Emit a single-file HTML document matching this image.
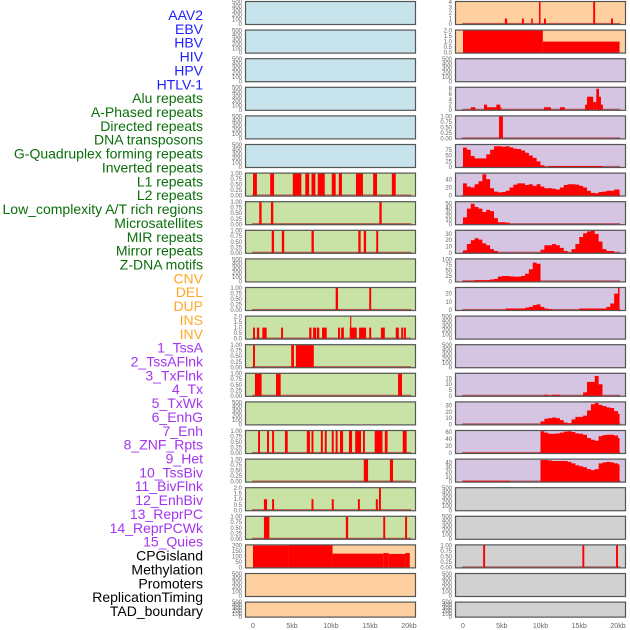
<!DOCTYPE html>
<html><head><meta charset="utf-8"><style>
html,body{margin:0;padding:0;background:#fff;width:630px;height:630px;overflow:hidden}
svg{display:block}
</style></head><body>
<svg id="chart" width="630" height="630" xmlns="http://www.w3.org/2000/svg" font-family="Liberation Sans, sans-serif"></svg>
<script>
// ---- data ----
const trackLabels = ["AAV2","EBV","HBV","HIV","HPV","HTLV-1","Alu repeats","A-Phased repeats","Directed repeats","DNA transposons","G-Quadruplex forming repeats","Inverted repeats","L1 repeats","L2 repeats","Low_complexity A/T rich regions","Microsatellites","MIR repeats","Mirror repeats","Z-DNA motifs","CNV","DEL","DUP","INS","INV","1_TssA","2_TssAFlnk","3_TxFlnk","4_Tx","5_TxWk","6_EnhG","7_Enh","8_ZNF_Rpts","9_Het","10_TssBiv","11_BivFlnk","12_EnhBiv","13_ReprPC","14_ReprPCWk","15_Quies","CPGisland","Methylation","Promoters","ReplicationTiming","TAD_boundary"];
const labelColors = ["#1f1fff","#1f1fff","#1f1fff","#1f1fff","#1f1fff","#1f1fff","#0b6e0b","#0b6e0b","#0b6e0b","#0b6e0b","#0b6e0b","#0b6e0b","#0b6e0b","#0b6e0b","#0b6e0b","#0b6e0b","#0b6e0b","#0b6e0b","#0b6e0b","#ffa726","#ffa726","#ffa726","#ffa726","#ffa726","#a335f0","#a335f0","#a335f0","#a335f0","#a335f0","#a335f0","#a335f0","#a335f0","#a335f0","#a335f0","#a335f0","#a335f0","#a335f0","#a335f0","#a335f0","#000","#000","#000","#000","#000"];
const xTicks = [0,5,10,15,20];
const xTickLabels = ["0","5kb","10kb","15kb","20kb"];

const T500 = [0,100,200,300,400,500];
const T1 = [0,0.25,0.5,0.75,1];
const T2 = [0,0.5,1,1.5,2];

// left column: bg, ticks, ymax, segments [startKb,endKb,value]
const leftBg = ["b","b","b","b","b","b","g","g","g","g","g","g","g","g","g","g","g","g","g","o","o","o"];
const leftTicks = [T500,T500,T500,T500,T500,T500,T1,T1,T1,T500,T1,T2,T1,T1,T500,T1,T1,T2,T1,[0,50,100,150,200],T500,T500];
const leftSegs = [
 [],[],[],[],[],[],
 [[0,0.5,1],[2.2,2.7,1],[5.1,6.2,1],[6.7,7.2,1],[7.5,8.0,1],[8.3,9.2,1],[10.1,10.6,1],[11.0,11.4,1],[13.2,14.1,1],[15.4,15.9,1],[17.8,18.3,1]],
 [[0.8,1.1,1],[2.3,2.6,1],[16.2,16.5,1]],
 [[2.4,2.7,1],[3.7,4.0,1],[7.5,7.8,1],[13.5,13.8,1],[14.2,14.5,1],[15.8,16.05,1]],
 [],
 [[10.6,10.9,1],[14.9,15.15,1]],
 [[0,0.25,1],[0.5,0.8,1],[1.2,1.75,1],[3.6,3.85,1],[7.2,7.5,1],[7.7,8.1,1],[8.2,8.5,1],[8.85,9.45,1],[10.9,11.15,1],[11.3,11.65,1],[12.4,13.3,1],[12.45,12.6,2],[13.6,14.5,1],[14.9,15.15,1],[16.4,16.9,1],[18.3,18.7,1],[19.0,19.25,1],[19.35,19.6,1]],
 [[0,0.25,1],[4.9,5.25,1],[5.5,7.8,1]],
 [[0.25,1.1,1],[2.95,3.55,1],[18.6,19.1,1]],
 [],
 [[0.65,0.9,1],[1.8,2.05,1],[2.45,2.7,1],[4.1,4.45,1],[6.9,7.3,1],[7.5,7.75,1],[8.7,8.95,1],[9.2,9.45,1],[10.1,10.35,1],[10.6,10.85,1],[11.15,11.55,1],[12.3,12.7,1],[13.1,13.85,1],[14.1,14.35,1],[15.6,16.6,1],[16.9,17.25,1],[19.2,19.7,1]],
 [[14.2,14.75,1],[17.55,17.95,1]],
 [[1.4,1.8,1],[2.45,2.7,1],[7.5,7.75,1],[10.1,10.35,1],[13.45,13.7,1],[15.75,16.0,1],[16.15,16.4,2]],
 [[1.4,2.1,1],[11.9,12.2,1],[16.7,16.95,1],[19.5,19.75,1]],
 [[0,4.5,197],[4.5,10.2,200],[10.2,16.7,125],[16.7,17.4,130],[17.4,19.5,122],[19.5,20.1,130]],
 [],[]
];
const leftBase = [0,0,0,0,0,0,1,1,1,0,1,1,1,1,0,1,1,1,1,0,0,0];

// right column
const rightBg = ["o","o","p","p","p","p","p","p","p","p","p","p","p","p","p","p","p","y","y","y","y","y"];
const rightTicks = [[0,1,2,3,4],T2,T500,[0,2,4,6,8],T1,[0,25,50,75],[0,20,40],[0,10,20,30,40,50],[0,10,20,30],[0,25,50,75,100],[0,10,20],T500,T500,[0,5,10,15],[0,10,20,30],[0,20,40,60],[0,10,20,30,40],T500,T500,T1,T500,T500];
const rightYmax = [4,2,500,8.4,1,96,54,54,35,100,27,500,500,19,35,63,46,500,500,1,500,500];
const rightSegs = [
 [[5.4,5.7,1],[7.6,7.85,1],[8.8,9.0,1],[9.8,10.0,4],[10.45,10.7,1],[16.8,17.05,4],[19.1,19.35,1]],
 [[0,10.3,2],[10.3,20.2,1]],
 [],
 [[1.0,1.6,1],[2.7,3.1,2],[3.1,4.3,1],[4.3,4.8,2],[4.8,4.95,1],[10.45,11.35,1],[12.5,13.15,1],[15.75,16.0,2],[16.0,16.8,5],[16.8,17.2,3],[17.2,17.55,8],[17.55,17.8,5],[17.8,18.05,2]],
 [[4.65,5.15,1]],
 [],[],[],[],[],[],[],[],[],[],[],[],[],[],
 [[2.6,2.85,1],[15.4,15.65,1],[19.75,20.0,1]],
 [],[]
];
// binned profiles (0.5kb bins starting at 0)
const rightBins = [];
rightBins[5] = [84,75,48,38,38,38,55,75,90,90,88,90,85,80,78,72,62,50,40,25,8,0,4,5,5,5,5,5,5,5,5,5,5,5,5,5,0,0,0,0,0];
rightBins[6] = [30,22,20,28,35,52,40,18,10,8,9,12,20,27,30,30,26,28,24,28,22,18,18,17,15,20,26,28,28,27,24,20,12,7,6,9,10,12,12,15,15];
rightBins[7] = [17,38,50,42,38,30,35,32,15,5,5,4,0,0,0,0,0,0,0,0,0,0,0,0,0,0,0,0,0,0,0,0,0,0,0,0,0,0,0,0,0];
rightBins[8] = [4,14,20,23,21,15,12,6,3,0,0,0,0,0,0,0,0,0,0,0,5,12,12,14,12,8,3,0,6,14,25,31,34,35,30,18,6,3,3,0,0];
rightBins[9] = [4,3,4,6,6,6,6,9,12,22,25,25,23,22,22,25,35,55,85,80,0,0,0,0,0,0,0,0,0,0,0,0,0,0,0,0,0,0,0,0,0];
rightBins[10] = [0,0,0,0,0,0,0,0,0,0,0,2,2,2,2,2,3,4,6,7,4,2,1,0,0,0,0,0,0,0,2,2,2,2,2,2,2,4,8,20,27];
rightBins[13] = [0,0,0,0,0,0,0,0,0,0,0,0,0,0,0,0,0,0,0,0,0,1,0,1,1,0,0,0,0,0,0,3,12,12,17,10,0,0,0,0,0];
rightBins[14] = [0,0,0,0,0,0,0,0,0,0,0,0,0,0,0,0,0,0,0,0,5,9,10,11,10,7,3,2,8,12,12,14,22,32,34,31,29,27,26,21,17];
rightBins[15] = [0,0,0,0,0,0,0,0,0,0,0,0,0,0,0,0,0,0,0,0,62,58,55,55,56,58,61,62,60,56,55,52,43,38,35,48,51,52,52,50,43];
rightBins[16] = [2,2,2,2,2,2,2,2,2,2,2,2,0,0,0,0,0,0,0,0,45,45,44,43,43,43,43,41,38,34,32,30,26,24,26,38,40,41,40,38,36];
const rightBase = [1,0,0,1,1,1,1,1,1,1,1,0,0,1,1,1,1,0,0,1,0,0];

// ---- drawing ----
const svg = document.getElementById('chart');
const NS = 'http://www.w3.org/2000/svg';
const bgColors = {b:'#c7e4ec',g:'#c9e2a5',o:'#ffd09f',p:'#d5c5e3',y:'#d1d1d1'};
function mk(tag, attrs){const e=document.createElementNS(NS,tag);for(const k in attrs)e.setAttribute(k,attrs[k]);svg.appendChild(e);return e;}
function rowTop(i){return 1+i*28.6;}
function rowH(i){return i===21?16:24;}
const xL = kb => 253 + kb*7.8;
const xR = kb => 463 + kb*7.75;

// labels
trackLabels.forEach((t,i)=>{
  const e = mk('text',{x:203,y:15+i*13.86+5,'text-anchor':'end','font-size':14,fill:labelColors[i]});
  e.textContent = t;
  
  
});

function drawPanel(side,i,bg,ticks,ymax,segs,bins,base){
  const x0 = side==='L'?245:455, w=171;
  const xs = side==='L'?xL:xR;
  const top=rowTop(i), h=rowH(i);
  const g = mk('g',{});
  
  
  const r = mk('rect',{x:x0,y:top,width:w,height:h,fill:bgColors[bg]});
  
  
  const lo = -0.04*ymax, hi = ymax*1.04;
  const ys = v => top + h - (v-lo)/(hi-lo)*h;
  // ticks
  ticks.forEach(tv=>{
    const e = mk('text',{x:x0-3,y:ys(tv)+2,'text-anchor':'end','font-size':6,fill:'#666'});
    e.textContent = (ticks===T1)?tv.toFixed(2):(ticks===T2?tv.toFixed(1):String(tv));
    
    
  });
  if(base){
    const b = mk('rect',{x:xs(-0.1),y:ys(0)-1.2,width:xs(20.3)-xs(-0.1),height:1.6,fill:'#b03030',opacity:0.75});
    
    
  }
  (segs||[]).forEach(s=>{
    const y1 = ys(s[2]);
    const e = mk('rect',{x:xs(s[0]),y:y1,width:Math.max(1,xs(s[1])-xs(s[0])),height:ys(0)-y1,fill:'#ff0000'});
    
    
  });
  if(bins){
    let d='';
    bins.forEach((v,k)=>{
      if(v<=0) return;
      const a=xs(k*0.5), bb=xs(Math.min(k*0.5+0.5,20.2));
      d+=`M${a},${ys(0)}V${ys(v)}H${bb}V${ys(0)}Z`;
    });
    const p = mk('path',{d:d,fill:'#ff0000'});
    
    
  }
  const f = mk('rect',{x:x0+0.5,y:top+0.5,width:w-1,height:h-1,fill:'none',stroke:'#555','stroke-width':1.2});
  
  
}
for(let i=0;i<22;i++){
  const lmax = Math.max(...leftTicks[i]);
  drawPanel('L',i,leftBg[i],leftTicks[i],lmax,leftSegs[i],null,leftBase[i]);
  drawPanel('R',i,rightBg[i],rightTicks[i],rightYmax[i],rightSegs[i],rightBins[i],rightBase[i]);
}
// x axes
[xL,xR].forEach(xs=>{
  xTicks.forEach((t,k)=>{
    const e = mk('text',{x:xs(t),y:628,'text-anchor':'middle','font-size':7,fill:'#666'});
    e.textContent = xTickLabels[k];
    
    
  });
});
</script>
</body></html>
